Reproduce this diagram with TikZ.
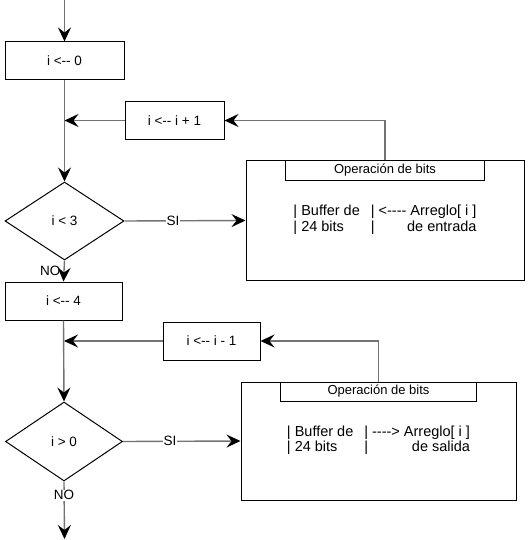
\documentclass[tikz,border=0pt]{standalone}
\usepackage{fontspec}
\setmainfont{Liberation Sans}
\usetikzlibrary{positioning, arrows.meta, shapes.geometric}
\newcommand{\dsh}{\mbox{-}}
\tikzset{
	font = \fontsize{13.5}{15.5}\selectfont,
	>={Stealth[length=14pt, width=13pt, inset=5pt, black]},
	process/.style={
		draw,
		rectangle,
		line width=1pt,
		inner sep=0pt,
		minimum height=38pt
	},
	decision/.style={
		draw,
		diamond,
		line width=1pt,
		inner sep=0pt
	},
	opbox/.style={
		draw,
		rectangle,
		line width=1pt,
		inner sep=0pt
	},
	optab/.style={
		draw,
		rectangle,
		line width=1pt,
		inner sep=0pt,
		minimum height=19pt,
		font=\fontsize{13}{15}\selectfont
	},
	buftext/.style={
		inner sep=0pt,
		font=\fontsize{14.5}{15.5}\selectfont
	},
	flow/.style={
		->,
		draw=black!55,
		line width=1.4pt
	},
	lbl/.style={
		fill=white,
		inner sep=1pt
	}
}

\begin{document}
\begin{tikzpicture}[x=1pt, y=-1pt]
	\useasboundingbox (0,0) rectangle (531,540);

	% first loop
	\coordinate (start) at (64.5,0);
	\node[process, minimum width=119pt] (b0) at (64.5,61) {i <\dsh\dsh{} 0};
	\node[process, minimum width=99pt] (inc) at (174.5,120.5) {i <\dsh\dsh{} i + 1};
	\node[decision, minimum width=119pt, minimum height=78pt] (d1) at (64.5,221) {i < 3};
	\node[opbox, minimum width=278pt, minimum height=119pt] (op1) at (385,220.5) {};
	\node[optab, minimum width=199pt, below=0pt of op1.north] (tab1) {Operación de bits};
	\node[buftext] (buf1) at (op1.center) {\begin{tabular}{@{}l@{\hspace{11pt}}l@{\hspace{4pt}}r@{}}
		| Buffer de & | & <\dsh\dsh\dsh\dsh{} Arreglo[ i ]\\
		| 24 bits & | & de entrada
	\end{tabular}};

	% second loop
	\node[process, minimum width=117pt] (b4) at (63.5,301) {i <\dsh\dsh{} 4};
	\node[process, minimum width=97pt] (dec) at (211.5,341) {i <\dsh\dsh{} i - 1};
	\node[decision, minimum width=117pt, minimum height=79pt] (d2) at (64,441.5) {i > 0};
	\node[opbox, minimum width=275pt, minimum height=118pt] (op2) at (378.5,441) {};
	\node[optab, minimum width=196pt, below=0pt of op2.north] (tab2) {Operación de bits};
	\node[buftext] (buf2) at (op2.center) {\begin{tabular}{@{}l@{\hspace{11pt}}l@{\hspace{4pt}}r@{}}
		| Buffer de & | & \dsh\dsh\dsh\dsh{}> Arreglo[ i ]\\
		| 24 bits & | & de salida
	\end{tabular}};
	\coordinate (end) at (64.5,539);

	\draw[flow] (start) -- (b0.north);
	\draw[flow] (b0.south) -- (d1.north);
	\draw[flow] (tab1.north) |- (inc.east);
	\draw[flow] (inc.west) -- (inc.west -| d1.north);
	\draw[flow] (d1.east) -- node[lbl, pos=.4] {SI} (op1.west);
	\draw[flow] (d1.south) -- node[left, inner sep=3pt] {NO} (b4.north);

	\draw[flow] (b4.south) -- (d2.north);
	\draw[flow] (tab2.north) |- (dec.east);
	\draw[flow] (dec.west) -- (dec.west -| d2.north);
	\draw[flow] (d2.east) -- node[lbl, pos=.4] {SI} (op2.west);
	\draw[flow] (d2.south) -- node[lbl, pos=.24] {NO} (end);
\end{tikzpicture}
\end{document}
